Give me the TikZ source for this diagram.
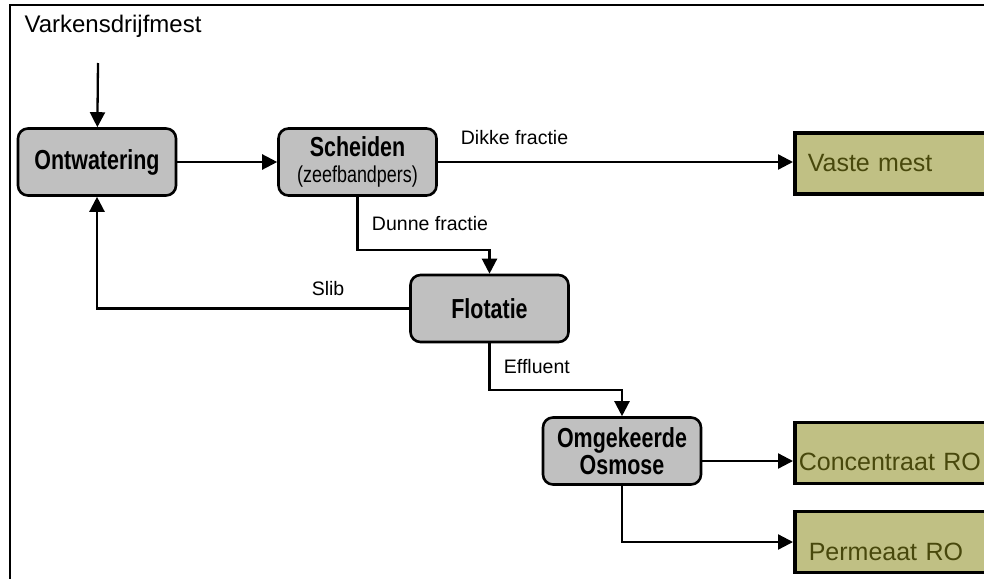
\documentclass[tikz,border=0pt]{standalone}
\usepackage{fontspec}
\setmainfont{Liberation Sans}
\newfontfamily\condfont[FakeStretch=0.78]{Liberation Sans}
\usepackage{tikz}
\usetikzlibrary{arrows.meta, positioning}
\definecolor{boxgray}{RGB}{192,192,192}
\definecolor{olive}{RGB}{192,192,132}
\definecolor{olivetext}{RGB}{72,72,12}

\begin{document}
\begin{tikzpicture}[x=1pt, y=-1pt,
    main/.style = {draw, rounded corners=10pt, fill=boxgray, line width=2.6pt,
      minimum width=158pt, minimum height=67pt, align=center,
      font=\condfont\bfseries\fontsize{27.5}{28}\selectfont},
    prod/.style = {draw, fill=olive, line width=3.6pt, text=olivetext, anchor=west,
      minimum height=61pt, inner ysep=0pt, text depth=0pt, text width=210pt, align=left,
      font=\fontsize{25}{28}\selectfont},
    lab/.style = {font=\fontsize{19.5}{23}\selectfont},
    arr/.style = {-{Triangle[length=15pt,width=15pt]}, line width=2.3pt}]
      \useasboundingbox (0,0) rectangle (984,578);
      \clip (0,0) rectangle (984,578);
      % frame
      \draw[line width=2pt] (990,5.5) -- (10,5.5) -- (10,590);

      \node[anchor=base west, font=\fontsize{24}{28}\selectfont] (0) at (21,33) {Varkensdrijfmest};
      \coordinate (in) at (98,63);

      \node[main] (1) at (97,162)    {Ontwatering};
      \node[main] (2) at (357.5,162) {Scheiden\\[-2pt]{\mdseries\fontsize{23}{24}\selectfont(zeefbandpers)}};
      \node[main] (3) at (489.5,308.5) {Flotatie};
      \node[main] (4) at (622,451)   {Omgekeerde\\[-1pt]Osmose};
      \node[prod, inner xsep=13pt, text height=15pt] (5) at (793,163.5) {Vaste mest};
      \node[prod, inner xsep=4pt, text height=34pt]  (6) at (793,453)   {Concentraat RO};
      \node[prod, inner xsep=14pt, text height=36pt] (7) at (793,542)   {Permeaat RO};

      \path[arr]
      (in) edge (1)
      (1)  edge (2)
      (2.east) edge node[lab, pos=0.216, above=13pt] {Dikke fractie} (2.east -| 5.west)
      ([yshift=-10pt]4.east) edge ([yshift=-10pt]4.east -| 6.west);

      \draw[arr] (2.south) -- node[lab, right=10pt] {Dunne fractie} ++(0,53) -| (3.north);
      \draw[arr] (3.west) -| node[lab, pos=0.13, above=8pt] {Slib} (1.south);
      \draw[arr] (3.south) -- node[lab, right=10pt] {Effluent} ++(0,47) -| (4.north);
      \draw[arr] (4.south) |- (7.west);
\end{tikzpicture}
\end{document}
